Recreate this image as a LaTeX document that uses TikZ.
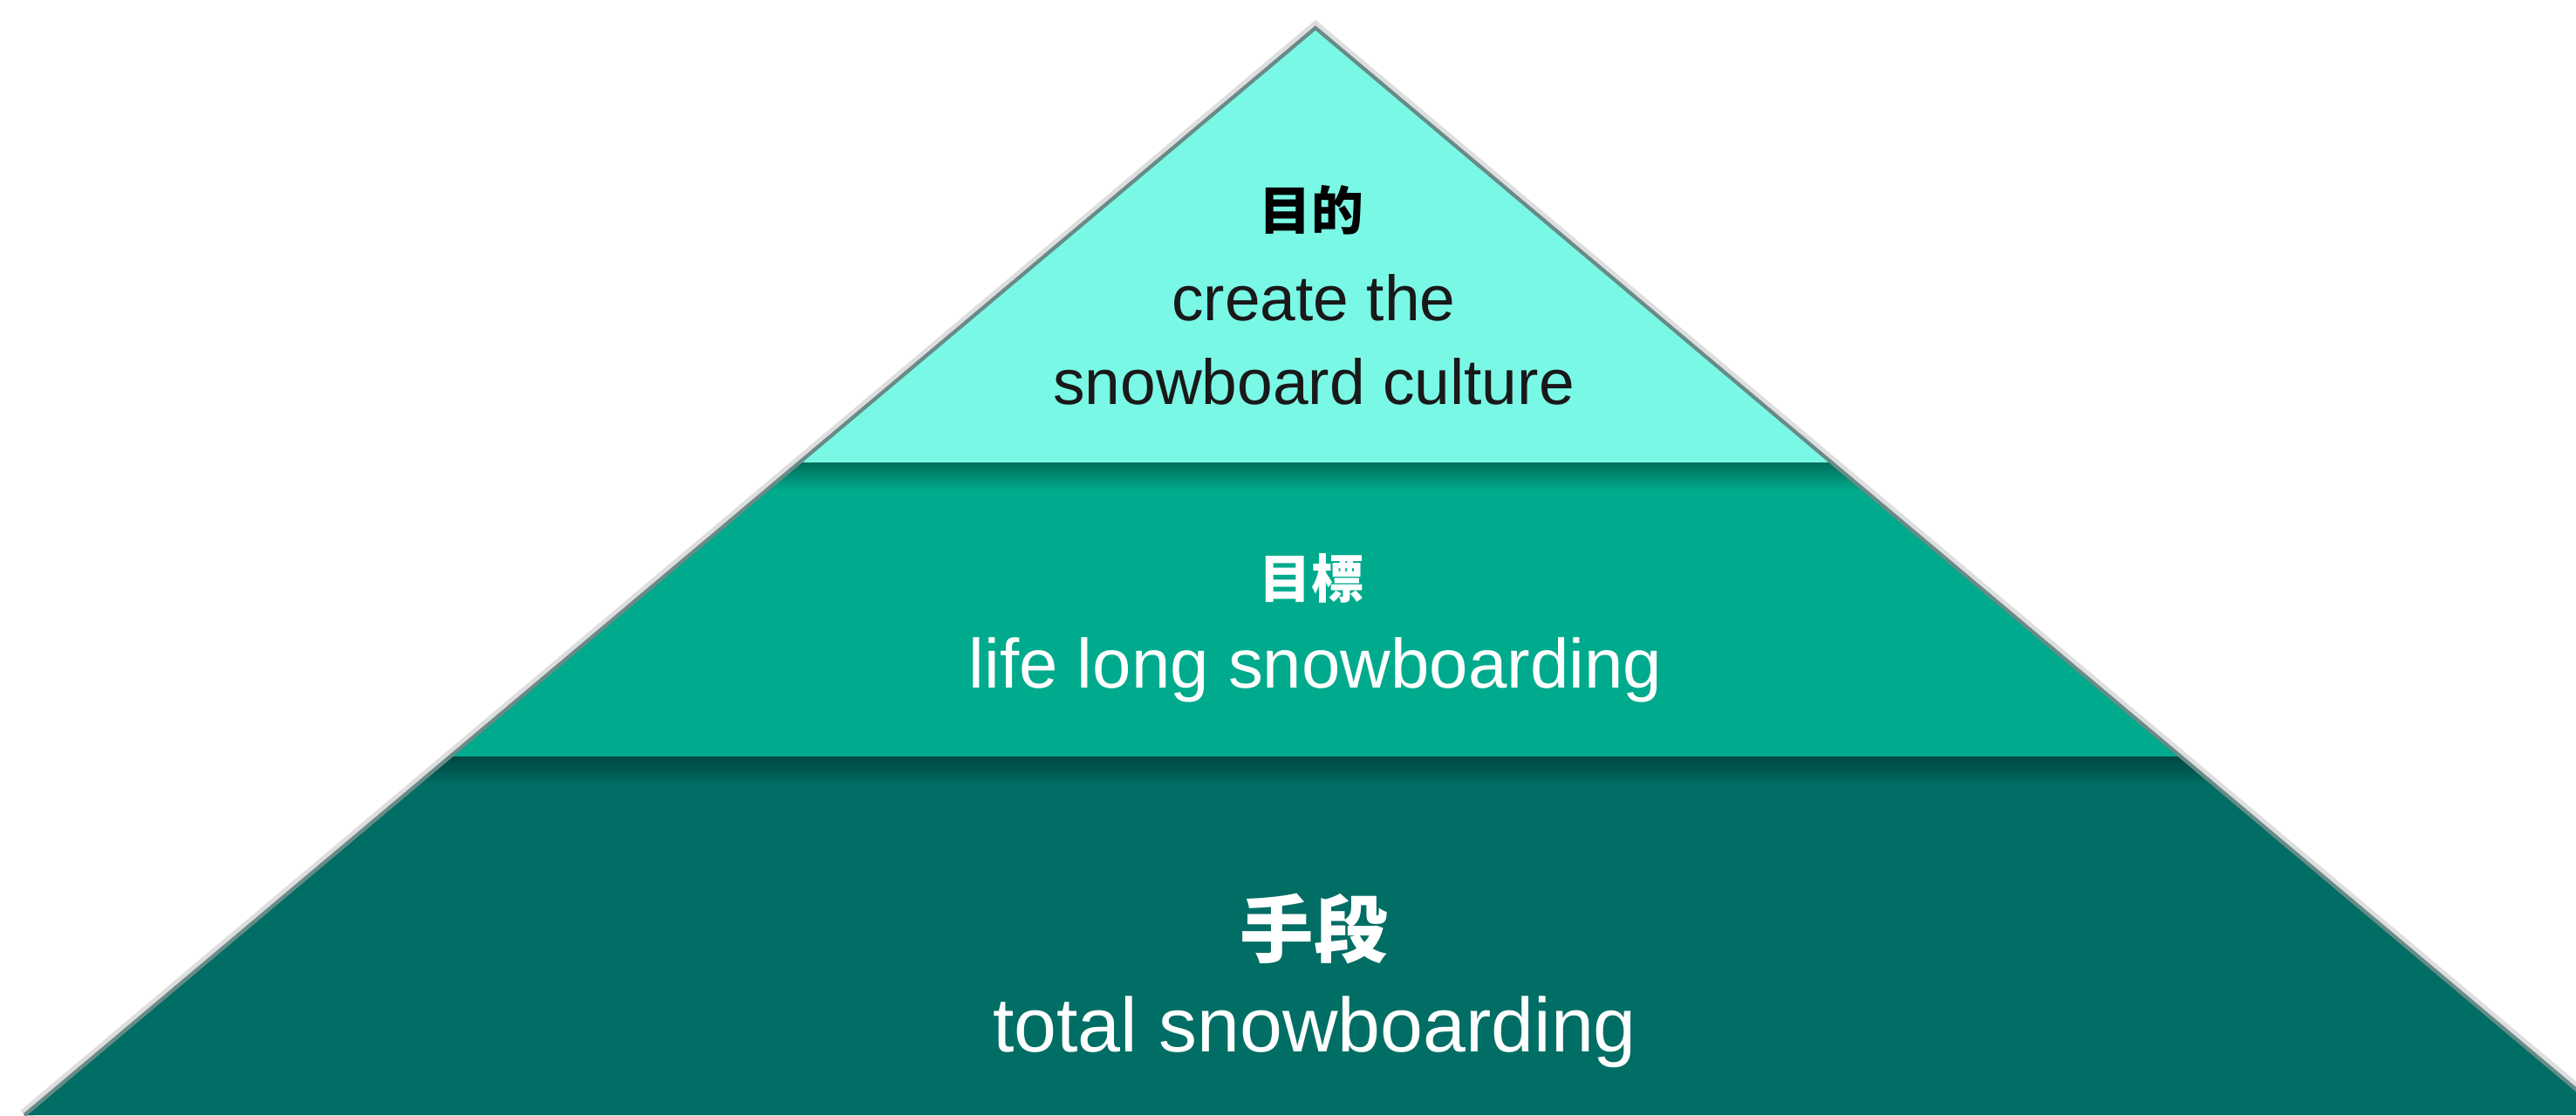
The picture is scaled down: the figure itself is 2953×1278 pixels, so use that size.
\documentclass[tikz,border=0pt]{standalone}
\usepackage{fontspec}
\setmainfont{Liberation Sans}
\newfontfamily\cjk{Noto Sans CJK JP}
\definecolor{topc}{RGB}{122,248,230}
\definecolor{midc}{RGB}{0,170,140}
\definecolor{botc}{RGB}{0,110,100}
\definecolor{midsh}{RGB}{0,110,90}
\definecolor{botsh}{RGB}{0,70,66}
\definecolor{edgec}{RGB}{40,90,85}
\tikzset{
  layer/.style={draw=edgec!70, line width=1.2pt, line join=miter},
  lbl/.style={inner sep=0pt, align=center},
}
\begin{document}
\begin{tikzpicture}[x=0.01cm,y=-0.01cm]
\useasboundingbox (0,0) rectangle (2953,1278);
\clip (0,0) rectangle (2953,1278);
\fill[white] (0,0) rectangle (2953,1278);
\coordinate (A) at (1508,32);
\coordinate (L1) at (918,530);
\coordinate (R1) at (2098,530);
\coordinate (L2) at (517,867);
\coordinate (R2) at (2499,867);
\coordinate (L3) at (28,1278);
\coordinate (R3) at (2988,1278);
% soft outer shadow
\draw[black!25, line width=4pt, opacity=0.5] (L3)--(A)--(R3);
% layers
\fill[botc] (L2)--(R2)--(R3)--(L3)--cycle;
\fill[midc] (L1)--(R1)--(R2)--(L2)--cycle;
\fill[topc] (A)--(R1)--(L1)--cycle;
% inner shadows under boundaries
\begin{scope}
\clip (L1)--(R1)--(R2)--(L2)--cycle;
\shade[top color=midsh, bottom color=midc] (0,530) rectangle (2953,562);
\end{scope}
\begin{scope}
\clip (L2)--(R2)--(R3)--(L3)--cycle;
\shade[top color=botsh, bottom color=botc] (0,867) rectangle (2953,900);
\end{scope}
\draw[layer] (L3)--(A)--(R3);
% texts
\node[lbl, font=\cjk\bfseries\fontsize{17}{20}\selectfont, text=black] (t1) at (1503,241) {目的};
\node[lbl, font=\fontsize{20.8}{25}\selectfont, text=black!90] (t2) at (1506,341) {create the};
\node[lbl, font=\fontsize{20.8}{25}\selectfont, text=black!90] (t3) at (1506,437) {snowboard culture};
\node[lbl, font=\cjk\bfseries\fontsize{17}{20}\selectfont, text=white] (m1) at (1503,663) {目標};
\node[lbl, font=\fontsize{22.7}{27}\selectfont, text=white] (m2) at (1508,768) {life long snowboarding};
\node[lbl, font=\cjk\bfseries\fontsize{24}{28}\selectfont, text=white] (b1) at (1506,1064) {手段};
\node[lbl, font=\fontsize{25}{30}\selectfont, text=white] (b2) at (1507,1183) {total snowboarding};
\end{tikzpicture}
\end{document}
